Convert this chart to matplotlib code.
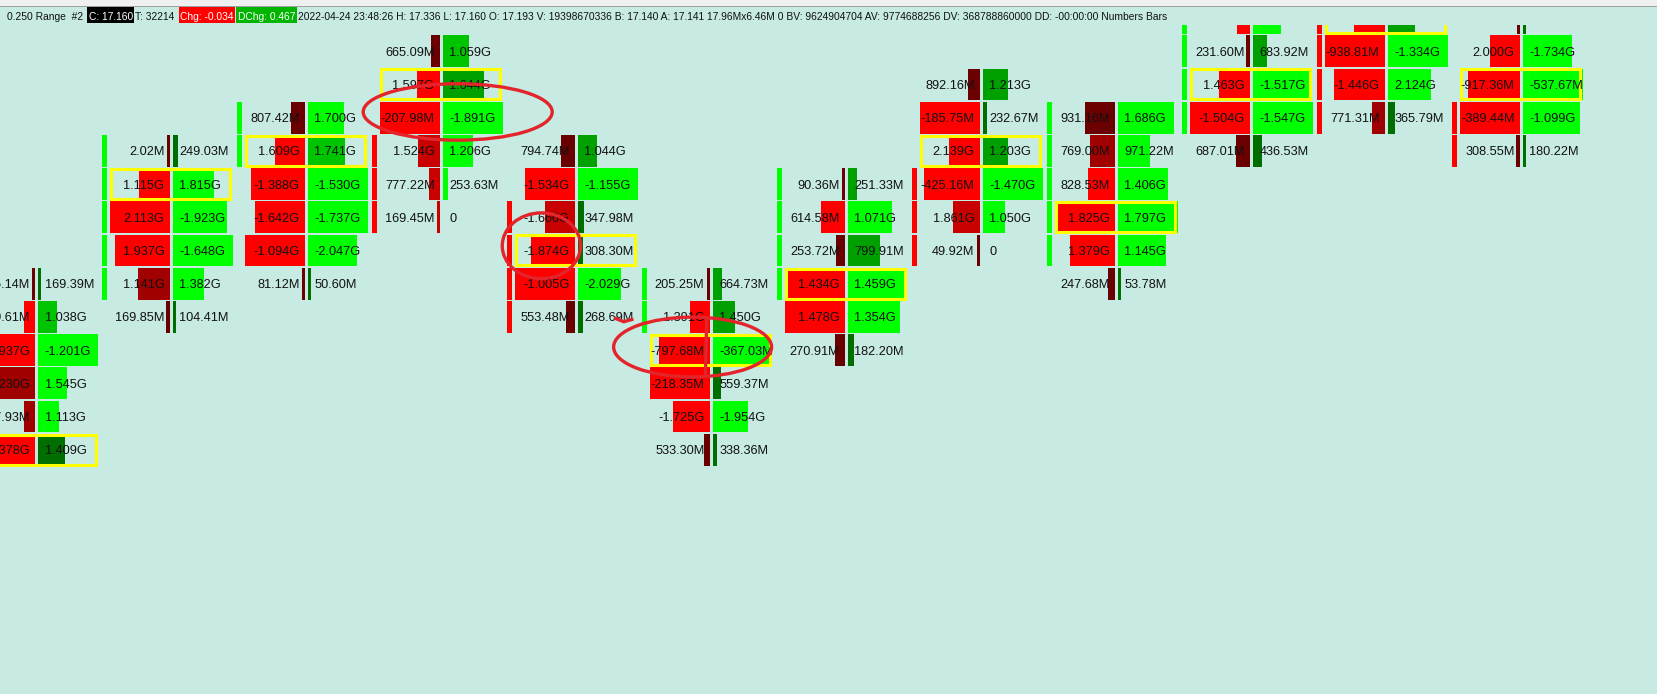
import matplotlib
matplotlib.use("Agg")
import matplotlib.pyplot as plt
from matplotlib.patches import Rectangle, Ellipse

# ------------------------------------------------------------------
# footprint data, one list entry per bar, rows listed top -> bottom
# ------------------------------------------------------------------
col_top = [8, 4, 3, 1, 4, 8, 5, 2, 3, 0, 0, 0]   # price level of first row

bid_text = [
    ["385.14M", "589.61M", "1.937G", "1.230G", "747.93M", "1.378G"],
    ["2.02M", "1.115G", "2.113G", "1.937G", "1.141G", "169.85M"],
    ["807.42M", "1.609G", "-1.388G", "-1.642G", "-1.094G", "81.12M"],
    ["665.09M", "1.597G", "-207.98M", "1.524G", "777.22M", "169.45M"],
    ["794.74M", "-1.534G", "-1.666G", "-1.874G", "-1.005G", "553.48M"],
    ["205.25M", "1.391G", "-797.68M", "-218.35M", "-1.725G", "533.30M"],
    ["90.36M", "614.58M", "253.72M", "1.434G", "1.478G", "270.91M"],
    ["892.16M", "-185.75M", "2.139G", "-425.16M", "1.861G", "49.92M"],
    ["931.16M", "769.00M", "828.53M", "1.825G", "1.379G", "247.68M"],
    ["", "231.60M", "1.463G", "-1.504G", "687.01M"],
    ["", "-938.81M", "-1.446G", "771.31M"],
    ["", "2.000G", "-917.36M", "-389.44M", "308.55M"],
]
ask_text = [
    ["169.39M", "1.038G", "-1.201G", "1.545G", "1.113G", "1.409G"],
    ["249.03M", "1.815G", "-1.923G", "-1.648G", "1.382G", "104.41M"],
    ["1.700G", "1.741G", "-1.530G", "-1.737G", "-2.047G", "50.60M"],
    ["1.059G", "1.644G", "-1.891G", "1.206G", "253.63M", "0"],
    ["1.044G", "-1.155G", "347.98M", "308.30M", "-2.029G", "268.69M"],
    ["664.73M", "1.450G", "-367.03M", "559.37M", "-1.954G", "338.36M"],
    ["251.33M", "1.071G", "799.91M", "1.459G", "1.354G", "182.20M"],
    ["1.213G", "232.67M", "1.203G", "-1.470G", "1.050G", "0"],
    ["1.686G", "971.22M", "1.406G", "1.797G", "1.145G", "53.78M"],
    ["", "683.92M", "-1.517G", "-1.547G", "436.53M"],
    ["", "-1.334G", "2.124G", "365.79M"],
    ["", "-1.734G", "-537.67M", "-1.099G", "180.22M"],
]
# bar lengths (percent of widest cell)
bid_len = [
    [5, 18, 100, 100, 18, 100],
    [5, 52, 100, 92, 53, 7],
    [23, 50, 90, 83, 100, 5],
    [15, 38, 100, 37, 18, 5],
    [23, 83, 50, 73, 100, 15],
    [5, 33, 85, 100, 62, 10],
    [5, 40, 15, 100, 100, 17],
    [20, 100, 52, 93, 45, 5],
    [50, 42, 45, 100, 75, 12],
    [22, 7, 52, 100, 23],
    [52, 100, 85, 22],
    [5, 50, 87, 100, 7],
]
ask_len = [
    [5, 32, 100, 48, 35, 45],
    [8, 68, 90, 100, 52, 5],
    [60, 62, 100, 100, 82, 5],
    [43, 68, 100, 50, 8, 0],
    [32, 100, 10, 8, 72, 8],
    [15, 37, 98, 13, 58, 7],
    [15, 73, 53, 95, 87, 10],
    [42, 7, 42, 100, 37, 0],
    [93, 53, 83, 100, 80, 5],
    [47, 23, 98, 100, 15],
    [45, 100, 72, 12],
    [5, 82, 100, 95, 5],
]
# shade index 0 = bright ... 3 = darkest
bid_shade = [
    [3, 0, 0, 2, 2, 0],
    [3, 0, 0, 0, 2, 3],
    [3, 0, 0, 0, 0, 3],
    [3, 0, 0, 1, 1, 1],
    [3, 0, 1, 0, 0, 3],
    [3, 0, 0, 0, 0, 3],
    [3, 0, 3, 0, 0, 3],
    [3, 0, 0, 0, 1, 3],
    [3, 2, 0, 0, 0, 3],
    [0, 3, 0, 0, 3],
    [0, 0, 0, 2],
    [3, 0, 0, 0, 3],
]
ask_shade = [
    [3, 1, 0, 0, 0, 3],
    [3, 0, 0, 0, 0, 3],
    [0, 1, 0, 0, 0, 3],
    [1, 2, 0, 0, 0, 0],
    [2, 0, 3, 3, 0, 3],
    [2, 2, 0, 3, 0, 3],
    [2, 0, 2, 0, 0, 3],
    [2, 3, 2, 0, 0, 0],
    [0, 0, 0, 0, 0, 3],
    [0, 2, 0, 0, 3],
    [2, 0, 0, 3],
    [3, 0, 0, 0, 3],
]
box_row = [5, 1, 1, 1, 3, 2, 3, 2, 3, 2, 0, 2]
body_lo = [None, 4, 3, 4, 6, 8, 5, 5, 3, 0, 0, 3]
body_hi = [None, 8, 4, 6, 9, 9, 8, 7, 7, 3, 3, 4]
body_up = [None, True, True, False, False, True, True, False, True, True, False, False]

# header pieces: (text, background or None)
header_parts = [
    ("0.250 Range  #2", None),
    ("C: 17.160", "#000000"),
    ("T: 32214", None),
    ("Chg: -0.034", "#ff0000"),
    ("DChg: 0.467", "#00b400"),
    ("2022-04-24 23:48:26 H: 17.336 L: 17.160 O: 17.193 V: 19398670336 "
     "B: 17.140 A: 17.141 17.96Mx6.46M 0 BV: 9624904704 AV: 9774688256 "
     "DV: 368788860000 DD: -00:00:00 Numbers Bars", None),
]

# ------------------------------------------------------------------
BG = "#c7eae2"
REDS = ["#ff0000", "#c80000", "#a00000", "#6b0000"]
GREENS = ["#00ff00", "#00c400", "#00a000", "#006e00"]
W, H = 1658, 694
PX, PY = 135.0, 33.2          # pixels per bar column / per price level
X0, Y0 = 36.5, 18.0           # pixel position of column 0 / level 0
CELL_FONT = ["Liberation Sans", "DejaVu Sans"]


def dx(p):
    return p / PX


fig = plt.figure(figsize=(W / 100, H / 100), dpi=100)
fig.patch.set_facecolor(BG)
ax = fig.add_axes([0, 0, 1, 1])
ax.set_facecolor(BG)
ax.set_xlim(-X0 / PX, (W - X0) / PX)
ax.set_ylim((H - Y0) / PY, -Y0 / PY)
ax.axis("off")

hgt = 31.8 / PY
for i, top in enumerate(col_top):
    c = i
    # candle body on the left of each bar
    if body_lo[i] is not None:
        col = "#00ff00" if body_up[i] else "#ff0000"
        for k in range(body_lo[i], body_hi[i] + 1):
            ax.add_patch(Rectangle((c - dx(69.5), k - hgt / 2), dx(4.6), hgt,
                                   color=col, lw=0, zorder=2))
    for j in range(len(bid_text[i])):
        k = top + j
        bw = bid_len[i][j] / 100 * dx(60)
        aw = ask_len[i][j] / 100 * dx(60)
        if bw > 0:
            ax.add_patch(Rectangle((c - dx(1.5) - bw, k - hgt / 2), bw, hgt,
                                   color=REDS[bid_shade[i][j]], lw=0, zorder=2))
        if aw > 0:
            ax.add_patch(Rectangle((c + dx(1.5), k - hgt / 2), aw, hgt,
                                   color=GREENS[ask_shade[i][j]], lw=0, zorder=2))
        ax.text(c - dx(7), k + 0.14, bid_text[i][j], ha="right", va="baseline",
                fontsize=9.2, family=CELL_FONT, color="#111111", zorder=5)
        ax.text(c + dx(8), k + 0.14, ask_text[i][j], ha="left", va="baseline",
                fontsize=9.2, family=CELL_FONT, color="#111111", zorder=5)
    kb = top + box_row[i]
    ax.add_patch(Rectangle((c - dx(60), kb - 0.45), dx(119), 0.9, fill=False,
                           edgecolor="#ffff00", lw=2.2, zorder=4))

# hand drawn red marks
RED_INK = "#e3242b"
for (cx, cy, ew, eh) in [(3.12, 2.83, 1.40, 1.70), (3.74, 6.86, 0.58, 1.98),
                         (4.86, 9.91, 1.17, 1.80)]:
    ax.add_patch(Ellipse((cx, cy), ew, eh, fill=False, edgecolor=RED_INK,
                         lw=2.4, zorder=6))
ax.plot([4.965, 4.955], [9.05, 10.7], color=RED_INK, lw=2.4, zorder=6)
ax.plot([4.29, 4.35, 4.41], [9.05, 9.15, 9.08], color=RED_INK, lw=2.4, zorder=6)

# ------------------------------------------------------------------
# header strip (pixel coordinates)
hx = fig.add_axes([0, 0, 1, 1])
hx.set_xlim(0, W)
hx.set_ylim(H, 0)
hx.axis("off")
hx.patch.set_visible(False)
hx.add_patch(Rectangle((0, 0), W, 25, color=BG, lw=0, zorder=1))
hx.add_patch(Rectangle((0, 0), W, 5.5, color="#f0f0f0", lw=0, zorder=2))
hx.add_patch(Rectangle((0, 5.5), W, 1.5, color="#a0a0a0", lw=0, zorder=2))

r = fig.canvas.get_renderer()
base = 20.2
pad, gap = 1.5, 4.0


def text_width(s, size):
    t = hx.text(0, base, s, fontsize=size, family="Liberation Sans")
    w = t.get_window_extent(r).width
    t.remove()
    return w


# pick one size so that the whole strip ends where the reference ends
total = sum(text_width(s, 8) + (2 * pad if bg else 0) for s, bg in header_parts)
hs = 8 * (1182 - 7 - gap * (len(header_parts) - 1)) / total

x = 7.0
for s, bg in header_parts:
    w = text_width(s, hs)
    if bg:
        hx.add_patch(Rectangle((x, 7.3), w + 2 * pad, 16, color=bg, lw=0, zorder=2))
        hx.text(x + pad, base, s, fontsize=hs, family="Liberation Sans",
                color="white", va="baseline", zorder=3)
        x += w + 2 * pad
    else:
        hx.text(x, base, s, fontsize=hs, family="Liberation Sans",
                color="#111111", va="baseline", zorder=3)
        x += w
    x += gap if bg is None else 1.0

fig.savefig("out.png", dpi=100, facecolor=BG)
